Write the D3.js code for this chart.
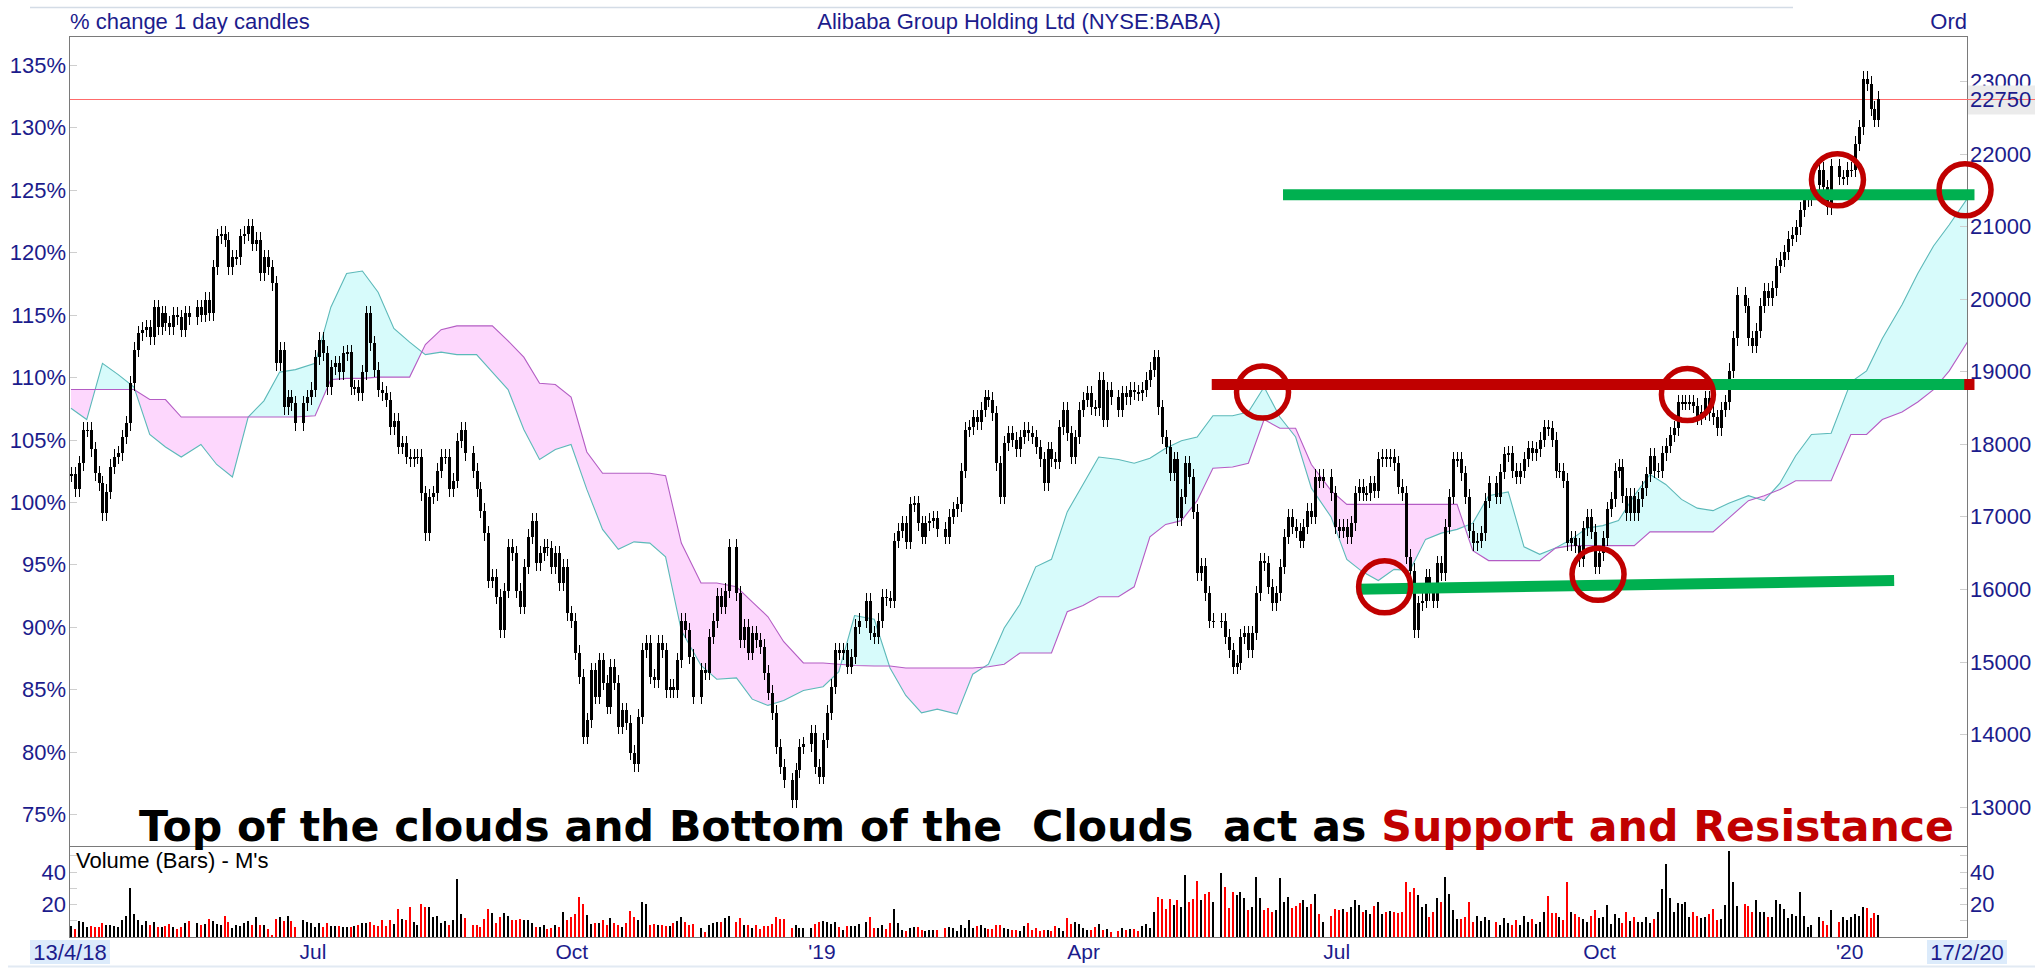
<!DOCTYPE html>
<html>
<head>
<meta charset="utf-8">
<script src="https://cdnjs.cloudflare.com/ajax/libs/d3/7.8.5/d3.min.js"></script>
<style>
    html, body { margin: 0; padding: 0; background: #fff; }
    svg { display: block; font-family: "Liberation Sans", Arial, sans-serif; }
</style>
</head>
<body>
<svg id="chart" width="2035" height="968"></svg>
<script>
/**
 * Alibaba (NYSE:BABA) daily candles with Ichimoku cloud, volume panel
 * and support / resistance annotations
 */

// Calendar: first bar, right edge of the axis, market holidays (left as empty slots)
const startDate = '2018-04-13';
const axisEndDate = '2020-02-17';
const holidays = ['2018-05-28', '2018-07-04', '2018-09-03', '2018-11-22', '2018-12-05', '2018-12-25',
    '2019-01-01', '2019-01-21', '2019-02-18', '2019-04-19', '2019-05-27', '2019-07-04', '2019-09-02',
    '2019-11-28', '2019-12-25', '2020-01-01', '2020-01-20', '2020-02-17'];

// Daily closes, % of the 13/4/18 base price
const closes = [
    102.2, 101.0, 103.1, 105.8, 105.8, 104.2, 102.3, 101.5, 99.1, 100.8,
    102.8, 103.6, 103.9, 105.2, 106.3, 109.5, 112.2, 113.5, 113.8, 114.0,
    113.2, 115.6, 114.0, 115.1, 114.3, 114.0, 115.0, 114.8, 113.8, 115.1,
    114.8, 115.6, 115.0, 116.2, 115.1, 118.8, 121.3, 121.5, 121.0, 118.8,
    119.6, 119.6, 121.3, 121.5, 122.1, 120.7, 121.0, 118.3, 119.6, 118.8,
    117.5, 111.1, 112.2, 107.6, 108.4, 107.9, 106.3, 107.9, 108.4, 109.0,
    111.6, 113.0, 111.9, 109.2, 110.8, 111.1, 110.4, 111.9, 112.0, 109.2,
    109.2, 108.7, 110.4, 115.1, 112.7, 110.6, 109.0, 108.7, 108.2, 106.0,
    106.5, 104.4, 104.7, 103.6, 103.4, 103.6, 103.6, 100.7, 97.5, 100.4,
    100.7, 102.5, 103.6, 103.6, 101.0, 101.7, 104.9, 105.8, 103.9, 102.5,
    101.0, 99.3, 97.5, 93.7, 94.0, 92.4, 89.7, 92.9, 96.4, 95.9,
    92.9, 91.6, 94.8, 97.2, 98.5, 95.1, 95.9, 96.4, 96.3, 94.8,
    95.9, 93.5, 94.8, 91.1, 90.5, 87.9, 86.0, 81.2, 82.5, 86.5,
    84.4, 87.3, 85.5, 83.6, 86.8, 85.5, 82.0, 83.3, 82.3, 79.9,
    79.0, 82.8, 88.1, 88.7, 86.0, 85.7, 88.7, 88.1, 84.9, 85.2,
    84.9, 87.3, 90.5, 89.7, 87.6, 84.4, 86.5, 86.3, 89.2, 90.5,
    92.5, 91.6, 92.9, 96.4, 92.7, 88.9, 90.0, 87.9, 89.5, 88.9,
    88.4, 86.3, 84.7, 83.1, 80.4, 78.8, 77.7, 76.1, 78.5, 80.4,
    80.6, 81.5, 78.8, 78.0, 80.9, 83.1, 85.2, 88.1, 87.9, 88.1,
    86.8, 87.6, 90.0, 90.5, 92.1, 89.5, 89.2, 90.5, 92.4, 92.3,
    92.1, 96.9, 97.7, 98.3, 96.8, 99.8, 99.9, 98.3, 97.2, 98.3,
    98.5, 98.7, 97.8, 97.2, 98.8, 99.4, 99.8, 102.5, 105.8, 106.0,
    106.8, 106.4, 107.4, 108.4, 108.2, 107.1, 103.1, 100.4, 104.7, 105.5,
    105.0, 104.2, 105.2, 105.8, 105.5, 105.2, 104.4, 103.4, 101.5, 104.2,
    103.4, 103.2, 106.0, 107.4, 105.5, 103.6, 105.2, 107.4, 108.2, 108.7,
    107.6, 107.5, 109.8, 106.6, 109.0, 108.4, 107.4, 108.7, 108.4, 109.0,
    108.8, 108.7, 109.0, 109.8, 110.6, 111.6, 107.6, 105.2, 104.4, 102.3,
    103.4, 98.7, 100.4, 103.1, 102.0, 99.2, 94.3, 94.9, 92.7, 90.5,
    90.5, 90.5, 89.2, 88.1, 86.8, 87.1, 89.2, 89.5, 88.1, 89.5,
    92.7, 95.3, 95.1, 93.2, 91.9, 92.7, 94.8, 97.2, 98.8, 98.0,
    97.7, 96.9, 98.0, 99.3, 98.8, 102.0, 101.7, 102.0, 100.7, 98.0,
    97.7, 98.0, 97.2, 98.3, 100.7, 101.2, 100.7, 100.7, 101.5, 100.9,
    103.4, 103.6, 103.4, 103.6, 103.1, 101.2, 100.7, 95.6, 94.5, 89.7,
    91.9, 92.1, 94.0, 92.7, 92.1, 95.1, 94.3, 98.0, 100.4, 103.4,
    103.4, 102.3, 100.4, 97.7, 96.7, 96.9, 97.5, 100.1, 101.5, 100.4,
    102.4, 103.8, 103.9, 102.5, 102.0, 102.5, 103.4, 104.3, 103.9, 104.2,
    105.0, 106.0, 105.9, 105.0, 102.5, 102.5, 101.7, 96.7, 97.1, 96.5,
    95.4, 97.9, 98.8, 97.6, 94.8, 95.9, 97.1, 99.4, 100.2, 102.5,
    102.8, 100.5, 99.1, 100.5, 99.1, 100.2, 101.1, 102.2, 103.7, 102.5,
    102.5, 103.9, 104.5, 105.4, 105.9, 108.0, 108.0, 108.0, 108.0, 107.7,
    106.8, 107.2, 108.3, 107.1, 106.8, 105.9, 107.4, 108.0, 110.5, 113.1,
    116.6, 115.7, 113.1, 112.5, 113.7, 115.7, 116.9, 116.3, 117.1, 118.9,
    119.4, 120.0, 121.1, 121.4, 122.0, 123.4, 124.2, 124.3, 125.4, 126.6,
    125.2, 123.6, 126.9, 126.0, 126.0, 126.6, 126.6, 128.7, 130.0, 133.9,
    133.5, 131.5, 130.6, 132.3
];

// Daily volume, millions of shares
const volumes = [
    6.5, 4.9, 9.6, 9.0, 6.1, 6.5, 6.1, 6.1, 8.6, 6.9,
    6.9, 6.5, 6.1, 10, 12.7, 29.6, 13.9, 10, 6.9, 9.6,
    6.9, 9.0, 6.1, 6.1, 6.5, 7.8, 6.1, 4.9, 5.7, 8.2,
    9.8, 8.6, 6.9, 7.8, 10.6, 9.8, 7.8, 6.9, 12.7, 9.0,
    5.3, 6.9, 6.5, 8.6, 9.4, 6.9, 11.8, 6.9, 6.9, 4.5,
    1.0, 11.0, 12.2, 9.8, 12.7, 9.4, 6.1, 10.2, 9.0, 8.2,
    6.1, 8.2, 5.7, 8.6, 6.5, 6.5, 6.5, 5.7, 6.1, 5.7,
    6.5, 6.9, 8.2, 8.6, 9.0, 7.3, 6.5, 10.3, 6.5, 9.9,
    7.7, 17.2, 10.8, 10.3, 18.1, 9.0, 6.9, 19.8, 18.3, 18.3,
    12, 12.9, 8.6, 9.5, 6.9, 10.3, 35.3, 13.8, 11.6, 7.3,
    7.3, 6.0, 10.8, 17.2, 14.6, 8.2, 12.0, 14.6, 12.5, 10.3,
    9.9, 10.8, 10.3, 10.3, 8.2, 5.6, 5.6, 6.9, 4.7, 5.2,
    7.3, 5.6, 15.1, 10.3, 12.0, 13.8, 24.1, 19.8, 13.3, 7.7,
    8.2, 8.2, 9.9, 6.9, 11.2, 8.2, 7.3, 5.6, 8.2, 15.5,
    12.3, 10.2, 21, 19.8, 7.2, 7.6, 7.2, 7.2, 6.7, 6.7,
    8.2, 9.6, 12.3, 8.8, 7.2, 7.6, 5.5, 2.7, 7.2, 8.2,
    8.8, 8.8, 11.2, 12.9, 8.8, 11.2, 7.2, 7.2, 5.5, 7.2,
    4.7, 6.7, 6.7, 7.6, 12.1, 10.8, 10.8, 5.1, 7.2, 5.1,
    5.1, 5.1, 7.6, 9.2, 9.6, 8.8, 7.6, 9.2, 6.1, 4.1,
    6.7, 6.7, 6.7, 7.6, 9.2, 12.1, 5.1, 5.1, 7.2, 4.7,
    8.2, 17, 8.2, 4.1, 3.5, 5.5, 5.9, 5.9, 3.9, 3.1,
    3.9, 3.9, 3.9, 5.5, 5.9, 5.1, 3.5, 7.2, 5.1, 10,
    5.5, 6.3, 7.2, 5.5, 4.7, 4.7, 7.2, 7.2, 5.5, 4.7,
    3.9, 4.3, 3.1, 6.3, 8.2, 4.1, 5.1, 3.1, 3.9, 3.9,
    3.1, 6.3, 5.1, 3.5, 11.2, 7.6, 9.2, 7.6, 5.1, 3.9,
    3.9, 5.9, 7.6, 4.3, 4.7, 2.7, 3.5, 5.5, 4.1, 4.7,
    4.7, 3.5, 6.3, 8.0, 5.1, 14.9, 24.3, 23.1, 17, 23.1,
    19.4, 22.5, 18.2, 37.8, 21.1, 23.1, 34.2, 22.5, 26.4, 27.2,
    21.5, 39, 30.5, 17.8, 27.2, 25.6, 27.6, 23.9, 16.2, 18.2,
    36.8, 23.9, 16.2, 17.8, 14.9, 16.6, 36.2, 21.1, 24.3, 17.8,
    18.6, 20.7, 22.7, 18.2, 20.2, 26.4, 14.1, 8.8, 12.9, 17,
    16.2, 17, 15.3, 18.2, 22.7, 19.4, 15.3, 16.2, 14.1, 18.6,
    21.1, 14.1, 15.3, 15.7, 15.3, 14.5, 14.9, 33.3, 27.6, 29.7,
    25.6, 18.2, 19.8, 12.1, 14.9, 23.9, 21.1, 36.6, 26.4, 16.2,
    10.8, 10.8, 12.1, 21.1, 8.8, 12.9, 9.6, 11.7, 10, 8.8,
    7.2, 11.2, 8.4, 7.2, 10, 7.2, 12.5, 9.2, 10.8, 7.6,
    9.2, 15.3, 25.2, 14.5, 14.5, 12.1, 10, 33.7, 15.3, 14.1,
    11.7, 10.8, 8.8, 12.5, 16.2, 11.2, 11.7, 19.4, 8.0, 14.1,
    11.2, 8.4, 14.9, 9.6, 11.7, 8.8, 9.2, 12.1, 8.4, 10.8,
    15.3, 29.2, 44.8, 23.9, 15.3, 20.7, 19.8, 21.1, 12.1, 15.3,
    12.9, 11.2, 12, 14, 16.9, 10.3, 10.7, 19.6, 52.6, 33.8,
    19, 19.8, 19, 15.3, 22.7, 14.8, 14.8, 12, 12, 22.7,
    19.8, 16.9, 11.5, 14, 12.4, 27.2, 12.8, 5.8, 7.0, 12,
    9.5, 7.0, 16.5, 9.1, 12, 9.9, 12, 13.6, 12.4, 18.1,
    17.7, 11.1, 14.4, 13.2
];

// Ichimoku cloud (already shifted forward), one reading every 4 trading days, in %
const cloudStep = 4;
const spanA = [
    107.5, 106.6, 111.1, 110.2, 109.2, 105.4, 104.4, 103.6, 104.6, 103.0,
    102.0, 106.8, 108.1, 110.4, 110.6, 111.1, 115.6, 118.3, 118.5, 116.8,
    113.9, 112.8, 111.8, 112.0, 111.8, 111.8, 110.4, 109.0, 105.8, 103.4,
    104.2, 104.6, 101.0, 97.8, 96.2, 96.8, 96.7, 95.6, 89.7, 86.9,
    85.8, 85.9, 84.2, 83.7, 84.1, 84.9, 85.2, 86.4, 90.9, 90.6,
    86.7, 84.5, 83.1, 83.4, 83.0, 86.2, 87.0, 89.9, 91.8, 94.8,
    95.4, 99.2, 101.4, 103.6, 103.4, 103.1, 103.5, 104.3, 104.9, 105.2,
    106.9, 106.9, 107.2, 109.2, 106.8, 105.2, 101.1, 98.8, 95.4, 94.4,
    93.7, 94.6, 94.5, 97.0, 97.5, 97.8, 98.3, 100.5, 100.8, 96.4,
    95.8, 96.3, 97.0, 97.9, 98.1, 98.5, 100.5, 102.2, 101.4, 100.2,
    99.5, 99.3, 99.9, 100.5, 100.1, 101.5, 103.7, 105.4, 105.5, 109.6,
    110.5, 113.1, 115.8, 118.3, 120.5, 122.2, 124.5, 127.0
];
const spanB = [
    109.0, 109.0, 109.0, 109.0, 109.0, 108.2, 108.2, 106.8, 106.8, 106.8,
    106.8, 106.8, 106.8, 106.8, 106.8, 106.9, 109.8, 109.9, 109.9, 110.0,
    110.0, 110.0, 112.6, 113.8, 114.1, 114.1, 114.1, 112.9, 111.6, 109.5,
    109.4, 108.4, 104.0, 102.3, 102.3, 102.3, 102.3, 102.1, 96.7, 93.5,
    93.5, 93.2, 92.0, 90.8, 88.8, 87.1, 87.1, 87.0, 86.9, 86.85,
    86.85, 86.7, 86.7, 86.7, 86.7, 86.7, 86.8, 87.0, 87.9, 87.9,
    87.9, 91.2, 91.7, 92.4, 92.4, 93.2, 97.2, 98.2, 98.5, 100.1,
    102.7, 102.8, 103.1, 106.6, 105.9, 105.9, 103.0, 100.9, 99.8, 99.8,
    99.8, 99.8, 99.8, 99.8, 99.8, 99.8, 96.1, 95.3, 95.3, 95.3,
    95.3, 96.3, 96.5, 96.5, 96.5, 96.5, 96.5, 97.6, 97.6, 97.6,
    97.6, 97.6, 98.7, 100.1, 100.5, 101.0, 101.7, 101.7, 101.7, 105.4,
    105.4, 106.6, 107.2, 108.0, 109.0, 110.5, 113.0, 116.0
];

// Axes
const basePrice = 17200;            // price (cents) that is 100%
const lastPrice = 22750;
const pctTicks = [75, 80, 85, 90, 95, 100, 105, 110, 115, 120, 125, 130, 135];
const priceTicks = [13000, 14000, 15000, 16000, 17000, 18000, 19000, 20000, 21000, 22000, 23000];
const volTicks = [20, 40];
const volMinorTicks = [10, 30, 50];
const monthLabels = [['2018-07-01', 'Jul'], ['2018-10-01', 'Oct'], ['2019-01-01', "'19"], ['2019-04-01', 'Apr'],
    ['2019-07-01', 'Jul'], ['2019-10-01', 'Oct'], ['2020-01-01', "'20"]];

// Annotations: level bars (trading-day index, %), circles (trading-day index, %)
const levelBars = [
    { t0: 296.8, t1: 465.4, p0: 124.6, p1: 124.6, kind: 'support' },
    { t0: 279.7, t1: 465.4, p0: 109.4, p1: 109.4, kind: 'resistance' },
    { t0: 403.3, t1: 463.4, p0: 109.4, p1: 109.4, kind: 'support' },
    { t0: 314.5, t1: 446.0, p0: 93.0, p1: 93.7, kind: 'support' }
];
const circleT = [291.6, 321.6, 374.8, 397.5, 432.8, 463.5];
const circleP = [108.8, 93.2, 94.2, 108.6, 125.8, 125.0];

const navy = '#1c1c8c';
const green = '#00b050';
const darkRed = '#c00000';

const W = 2035, H = 968;
const plot = { left: 69, right: 1967, top: 36, mid: 846, bottom: 937 };
const svg = d3.select('#chart');
const defs = svg.append('defs');

// Build the weekday slots and map every trading day onto one
const parse = d3.utcParse('%Y-%m-%d');
const fmt = d3.utcFormat('%Y-%m-%d');
const holidaySet = new Set(holidays);
const slots = [];
const tradeSlot = [];
for (let d = parse(startDate); d <= parse('2020-03-31'); d = d3.utcDay.offset(d, 1)) {
    const wd = d.getUTCDay();
    if (wd === 0 || wd === 6) continue;
    slots.push(d);
    if (!holidaySet.has(fmt(d))) tradeSlot.push(slots.length - 1);
}
const lastSlot = slots.findIndex(d => fmt(d) === axisEndDate);

const xs = d3.scaleLinear().domain([-0.5, lastSlot + 0.5]).range([plot.left, plot.right]);
function xt(t) {
    const i = Math.max(0, Math.min(tradeSlot.length - 2, Math.floor(t)));
    const f = t - i;
    return xs(tradeSlot[i] + f * (tradeSlot[i + 1] - tradeSlot[i]));
}
const y = d3.scaleLinear().domain([135, 75]).range([65, 814]);
const yv = d3.scaleLinear().domain([0, 40]).range([936.5, 871.5]);

defs.append('clipPath').attr('id', 'plotClip')
    .append('rect')
    .attr('x', plot.left).attr('y', plot.top)
    .attr('width', plot.right - plot.left).attr('height', plot.mid - plot.top);

// Light page rules
svg.append('line').attr('x1', 30).attr('x2', 1793).attr('y1', 7.5).attr('y2', 7.5)
    .attr('stroke', '#d4dce6').attr('stroke-width', 1.5);
svg.append('line').attr('x1', 8).attr('x2', W).attr('y1', 966.5).attr('y2', 966.5)
    .attr('stroke', '#e2eaf3').attr('stroke-width', 2);

// Titles
svg.append('text').attr('x', 70).attr('y', 29).attr('fill', navy).attr('font-size', 22)
    .text('% change 1 day candles');
svg.append('text').attr('x', 1019).attr('y', 29).attr('fill', navy).attr('font-size', 22)
    .attr('text-anchor', 'middle').text('Alibaba Group Holding Ltd (NYSE:BABA)');
svg.append('text').attr('x', 1967).attr('y', 29).attr('fill', navy).attr('font-size', 22)
    .attr('text-anchor', 'end').text('Ord');

// Cloud
const cloud = spanA.map((a, k) => ({ t: k * cloudStep, a, b: spanB[k] }));
defs.append('clipPath').attr('id', 'aboveB').append('path')
    .attr('d', d3.area().x(d => xt(d.t)).y0(0).y1(d => y(d.b))(cloud));
defs.append('clipPath').attr('id', 'belowB').append('path')
    .attr('d', d3.area().x(d => xt(d.t)).y0(H).y1(d => y(d.b))(cloud));

const cg = svg.append('g').attr('clip-path', 'url(#plotClip)');
const band = d3.area().x(d => xt(d.t)).y0(d => y(d.a)).y1(d => y(d.b));
cg.append('g').attr('clip-path', 'url(#aboveB)')
    .append('path').attr('d', band(cloud)).attr('fill', '#d7fbfb');
cg.append('g').attr('clip-path', 'url(#belowB)')
    .append('path').attr('d', band(cloud)).attr('fill', '#fdd7fd');
cg.append('path').attr('d', d3.line().x(d => xt(d.t)).y(d => y(d.a))(cloud))
    .attr('fill', 'none').attr('stroke', '#5cb9b9').attr('stroke-width', 1.1);
cg.append('path').attr('d', d3.line().x(d => xt(d.t)).y(d => y(d.b))(cloud))
    .attr('fill', 'none').attr('stroke', '#b45cc4').attr('stroke-width', 1.1);

// Last price line
const yLast = Math.round(y(lastPrice / basePrice * 100)) + 0.5;
svg.append('line').attr('x1', plot.left).attr('x2', W).attr('y1', yLast).attr('y2', yLast)
    .attr('stroke', '#ff6b6b').attr('stroke-width', 1);

// Candles: open is the previous close
const candles = closes.map((c, i) => ({ t: i, o: i > 0 ? closes[i - 1] : c, c, v: volumes[i] }));
const wick = 0.6;
const cx = d => Math.round(xt(d.t));

const candleG = svg.append('g').attr('shape-rendering', 'crispEdges');
candleG.selectAll('line')
    .data(candles)
    .join('line')
    .attr('x1', d => cx(d) + 0.5).attr('x2', d => cx(d) + 0.5)
    .attr('y1', d => y(Math.max(d.o, d.c) + wick))
    .attr('y2', d => y(Math.min(d.o, d.c) - wick))
    .attr('stroke', '#000').attr('stroke-width', 1);
candleG.selectAll('rect')
    .data(candles)
    .join('rect')
    .attr('x', d => cx(d) - 1)
    .attr('width', 3)
    .attr('y', d => y(Math.max(d.o, d.c)))
    .attr('height', d => Math.max(1.5, y(Math.min(d.o, d.c)) - y(Math.max(d.o, d.c))))
    .attr('fill', '#000');

// Volume bars
svg.append('g').attr('shape-rendering', 'crispEdges')
    .selectAll('rect')
    .data(candles)
    .join('rect')
    .attr('x', d => cx(d) - 1)
    .attr('width', 2)
    .attr('y', d => yv(d.v))
    .attr('height', d => yv(0) - yv(d.v))
    .attr('fill', d => d.c < d.o ? '#ff0000' : '#000');

// Frame
const frame = svg.append('g').attr('shape-rendering', 'crispEdges');
frame.append('rect')
    .attr('x', plot.left + 0.5).attr('y', plot.top + 0.5)
    .attr('width', plot.right - plot.left).attr('height', plot.bottom - plot.top)
    .attr('fill', 'none').attr('stroke', '#7a7a7a');
frame.append('line').attr('x1', plot.left).attr('x2', plot.right + 1)
    .attr('y1', plot.mid + 0.5).attr('y2', plot.mid + 0.5).attr('stroke', '#7a7a7a');

// Left % axis
const ax = svg.append('g');
pctTicks.forEach(p => {
    const yy = Math.round(y(p)) + 0.5;
    ax.append('line').attr('x1', plot.left + 1).attr('x2', plot.left + 8)
        .attr('y1', yy).attr('y2', yy).attr('stroke', '#cfcfcf');
    ax.append('text').attr('x', 66).attr('y', yy).attr('dy', '0.36em')
        .attr('text-anchor', 'end').attr('fill', navy).attr('font-size', 22).text(p + '%');
});

// Right price axis
priceTicks.forEach(pr => {
    const yy = Math.round(y(pr / basePrice * 100)) + 0.5;
    ax.append('line').attr('x1', plot.right - 7).attr('x2', plot.right)
        .attr('y1', yy).attr('y2', yy).attr('stroke', '#cfcfcf');
    ax.append('text').attr('x', 1970).attr('y', yy).attr('dy', '0.36em')
        .attr('fill', navy).attr('font-size', 22).text(pr);
});
ax.append('rect').attr('x', plot.right + 1).attr('y', yLast - 14).attr('width', W - plot.right - 1).attr('height', 29)
    .attr('fill', '#ebebeb');
ax.append('line').attr('x1', plot.right).attr('x2', W).attr('y1', yLast).attr('y2', yLast)
    .attr('stroke', '#ff6b6b');
ax.append('text').attr('x', 1970).attr('y', yLast).attr('dy', '0.36em')
    .attr('fill', navy).attr('font-size', 22).text(lastPrice);

// Volume axis (both sides)
volMinorTicks.forEach(v => {
    const yy = Math.round(yv(v)) + 0.5;
    ax.append('line').attr('x1', plot.left + 1).attr('x2', plot.left + 8).attr('y1', yy).attr('y2', yy).attr('stroke', '#cfcfcf');
    ax.append('line').attr('x1', plot.right - 7).attr('x2', plot.right).attr('y1', yy).attr('y2', yy).attr('stroke', '#cfcfcf');
});
volTicks.forEach(v => {
    const yy = Math.round(yv(v)) + 0.5;
    ax.append('line').attr('x1', plot.left + 1).attr('x2', plot.left + 8).attr('y1', yy).attr('y2', yy).attr('stroke', '#cfcfcf');
    ax.append('line').attr('x1', plot.right - 7).attr('x2', plot.right).attr('y1', yy).attr('y2', yy).attr('stroke', '#cfcfcf');
    ax.append('text').attr('x', 66).attr('y', yy).attr('dy', '0.36em').attr('text-anchor', 'end')
        .attr('fill', navy).attr('font-size', 22).text(v);
    ax.append('text').attr('x', 1970).attr('y', yy).attr('dy', '0.36em')
        .attr('fill', navy).attr('font-size', 22).text(v);
});
svg.append('text').attr('x', 76).attr('y', 868).attr('fill', '#000').attr('font-size', 22)
    .text("Volume (Bars) - M's");

// Date axis
const slotOf = iso => slots.findIndex(d => d >= parse(iso));
monthLabels.forEach(([iso, label]) => {
    const s = slotOf(iso);
    const off = label.startsWith("'") ? 1 : 8;
    ax.append('text').attr('x', xs(s) + off).attr('y', 959)
        .attr('fill', navy).attr('font-size', 21).text(label);
});
[[30, '13/4/18'], [1927, '17/2/20']].forEach(([bx, label]) => {
    ax.append('rect').attr('x', bx).attr('y', 940).attr('width', 80).attr('height', 24).attr('fill', '#dcebfb');
    ax.append('text').attr('x', bx + 40).attr('y', 960).attr('text-anchor', 'middle')
        .attr('fill', navy).attr('font-size', 22).text(label);
});

// Support / resistance bars and circles
const ann = svg.append('g');
ann.selectAll('line')
    .data(levelBars)
    .join('line')
    .attr('x1', d => xt(d.t0)).attr('x2', d => xt(d.t1))
    .attr('y1', d => y(d.p0)).attr('y2', d => y(d.p1))
    .attr('stroke', d => d.kind === 'support' ? green : darkRed)
    .attr('stroke-width', 11);
ann.selectAll('circle')
    .data(circleT.map((t, i) => ({ t, p: circleP[i] })))
    .join('circle')
    .attr('cx', d => xt(d.t)).attr('cy', d => y(d.p)).attr('r', 26)
    .attr('fill', 'none').attr('stroke', darkRed).attr('stroke-width', 5.5);

// Headline
const head = svg.append('text')
    .attr('x', 139).attr('y', 841)
    .attr('font-family', '"DejaVu Sans", Verdana, sans-serif')
    .attr('font-weight', 'bold')
    .attr('font-size', 44)
    .style('white-space', 'pre');
head.append('tspan').attr('fill', '#000').text('Top of the clouds and Bottom of the  Clouds  act as ');
head.append('tspan').attr('fill', darkRed).text('Support and Resistance');
const wNow = head.node().getComputedTextLength();
if (wNow > 0) head.attr('font-size', 44 * 1816 / wNow);
</script>
</body>
</html>
